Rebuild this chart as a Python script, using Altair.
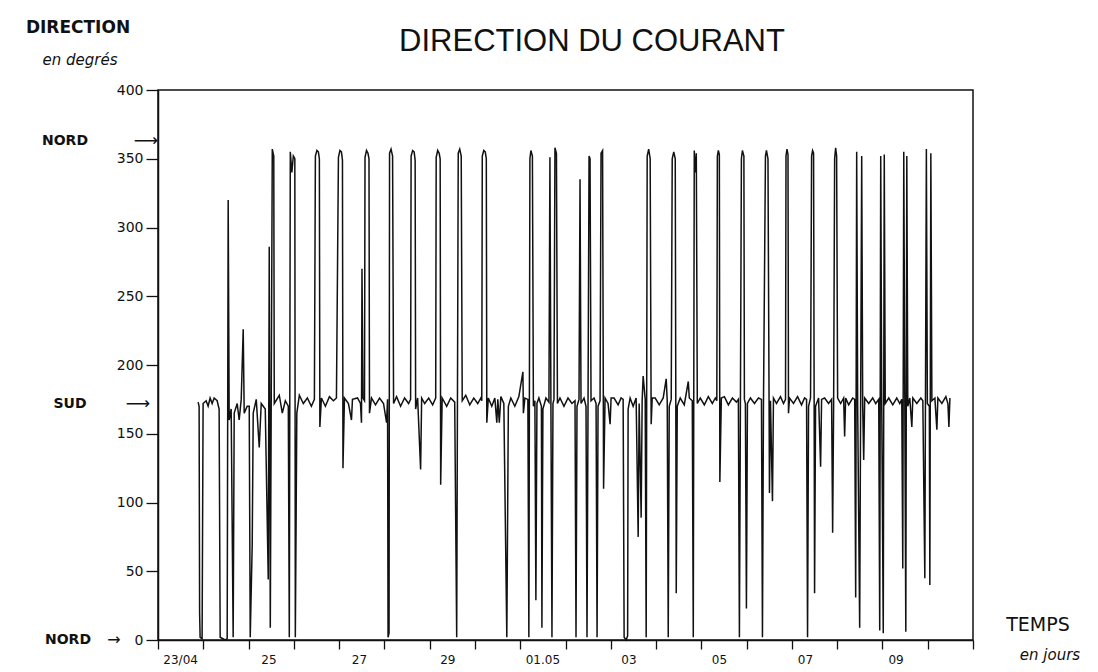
import altair as alt
import pandas as pd

# time in days since 23/04 00:00 and current direction in degrees
t = [0.886, 0.908, 0.919, 0.930, 0.974, 0.996, 1.063, 1.107, 1.151, 1.196,
     1.240, 1.306, 1.350, 1.373, 1.483, 1.528, 1.550, 1.572, 1.616, 1.660,
     1.683, 1.749, 1.793, 1.838, 1.882, 1.904, 1.970, 2.015, 2.037, 2.081,
     2.103, 2.170, 2.236, 2.280, 2.369, 2.435, 2.457, 2.480, 2.524, 2.557,
     2.568, 2.679, 2.745, 2.812, 2.878, 2.900, 2.922, 2.956, 2.989, 3.022,
     3.033, 3.066, 3.122, 3.210, 3.299, 3.387, 3.454, 3.476, 3.509, 3.542,
     3.564, 3.575, 3.609, 3.697, 3.786, 3.874, 3.941, 3.985, 4.018, 4.051,
     4.074, 4.085, 4.118, 4.206, 4.273, 4.295, 4.406, 4.472, 4.494, 4.505,
     4.527, 4.561, 4.572, 4.605, 4.638, 4.660, 4.671, 4.716, 4.804, 4.893,
     4.981, 5.048, 5.070, 5.081, 5.103, 5.114, 5.147, 5.181, 5.203, 5.269,
     5.358, 5.446, 5.535, 5.579, 5.590, 5.623, 5.657, 5.679, 5.690, 5.734,
     5.800, 5.823, 5.889, 5.978, 6.066, 6.133, 6.144, 6.177, 6.210, 6.232,
     6.243, 6.276, 6.376, 6.465, 6.553, 6.597, 6.631, 6.664, 6.697, 6.719,
     6.797, 6.885, 6.974, 7.062, 7.129, 7.151, 7.162, 7.195, 7.228, 7.251,
     7.262, 7.295, 7.372, 7.439, 7.483, 7.505, 7.538, 7.572, 7.638, 7.704,
     7.738, 7.793, 7.881, 7.970, 8.059, 8.070, 8.103, 8.169, 8.191, 8.214,
     8.236, 8.269, 8.291, 8.324, 8.346, 8.369, 8.413, 8.468, 8.479, 8.501,
     8.568, 8.634, 8.656, 8.678, 8.701, 8.723, 8.745, 8.767, 8.800, 8.822,
     8.878, 8.966, 9.055, 9.143, 9.210, 9.232, 9.254, 9.298, 9.321, 9.343,
     9.409, 9.453, 9.475, 9.498, 9.520, 9.542, 9.564, 9.630, 9.675, 9.697,
     9.719, 9.763, 9.785, 9.819, 9.841, 9.874, 9.940, 9.985, 10.007, 10.073,
     10.162, 10.228, 10.273, 10.295, 10.339, 10.372, 10.383, 10.427, 10.494, 10.560,
     10.605, 10.627, 10.671, 10.693, 10.715, 10.760, 10.782, 10.804, 10.837, 10.870,
     10.892, 10.915, 10.981, 11.070, 11.158, 11.224, 11.247, 11.269, 11.291, 11.335,
     11.357, 11.391, 11.424, 11.446, 11.468, 11.534, 11.623, 11.712, 11.734, 11.800,
     11.822, 11.844, 11.867, 11.889, 11.911, 11.977, 12.066, 12.154, 12.243, 12.309,
     12.342, 12.354, 12.376, 12.398, 12.409, 12.442, 12.509, 12.597, 12.686, 12.774,
     12.818, 12.841, 12.863, 12.885, 12.907, 12.940, 12.951, 12.973, 12.996, 13.018,
     13.084, 13.173, 13.261, 13.328, 13.350, 13.372, 13.416, 13.438, 13.472, 13.505,
     13.527, 13.571, 13.593, 13.660, 13.748, 13.815, 13.859, 13.870, 13.892, 13.914,
     13.925, 13.948, 14.036, 14.125, 14.213, 14.280, 14.324, 14.346, 14.368, 14.412,
     14.435, 14.457, 14.479, 14.501, 14.523, 14.590, 14.634, 14.656, 14.722, 14.811,
     14.877, 14.900, 14.922, 14.944, 14.966, 14.988, 15.010, 15.077, 15.143, 15.165,
     15.187, 15.254, 15.342, 15.387, 15.409, 15.431, 15.453, 15.497, 15.542, 15.564,
     15.586, 15.608, 15.697, 15.785, 15.852, 15.918, 15.940, 15.962, 15.984, 16.018,
     16.040, 16.062, 16.139, 16.228, 16.316, 16.383, 16.427, 16.449, 16.471, 16.494,
     16.516, 16.538, 16.560, 16.604, 16.649, 16.671, 16.759, 16.848, 16.892, 16.936,
     16.970, 16.992, 17.036, 17.047, 17.069, 17.092, 17.158, 17.202, 17.224, 17.313,
     17.401, 17.446, 17.468, 17.490]

direction = [173, 170, 20, 2, 1, 172, 174, 170, 176, 172,
             176, 174, 168, 2, 0, 1, 320, 160, 168, 2,
             165, 172, 160, 175, 226, 165, 170, 170, 2, 70,
             165, 175, 140, 172, 168, 44, 286, 9, 357, 352,
             172, 178, 165, 174, 170, 2, 355, 340, 352, 350,
             2, 165, 178, 172, 176, 170, 175, 352, 356, 355,
             350, 155, 176, 170, 177, 174, 176, 351, 356, 355,
             349, 125, 176, 172, 160, 175, 176, 172, 158, 270,
             176, 174, 351, 356, 354, 350, 165, 176, 171, 176,
             172, 158, 175, 2, 5, 354, 357, 352, 172, 177,
             170, 176, 172, 175, 352, 356, 355, 349, 168, 176,
             124, 176, 172, 176, 171, 176, 351, 356, 354, 350,
             113, 176, 170, 176, 173, 2, 354, 357, 352, 174,
             178, 171, 176, 172, 176, 174, 352, 356, 355, 350,
             158, 176, 170, 176, 158, 175, 158, 177, 172, 2,
             170, 176, 170, 177, 195, 165, 176, 175, 2, 350,
             356, 352, 170, 174, 29, 172, 176, 170, 9, 168,
             176, 173, 351, 170, 2, 172, 175, 358, 354, 172,
             176, 170, 176, 172, 174, 2, 170, 175, 335, 172,
             176, 170, 2, 174, 352, 350, 174, 176, 172, 2,
             170, 174, 354, 356, 110, 176, 172, 157, 176, 176,
             171, 176, 175, 2, 0, 3, 168, 176, 170, 176,
             75, 172, 89, 174, 192, 175, 2, 352, 357, 350,
             157, 176, 176, 171, 176, 190, 174, 2, 170, 175,
             350, 355, 350, 34, 170, 176, 171, 188, 176, 174,
             2, 356, 340, 354, 172, 176, 171, 177, 172, 176,
             174, 352, 356, 353, 115, 176, 177, 171, 176, 173,
             175, 2, 172, 350, 356, 352, 175, 172, 23, 172,
             176, 172, 176, 175, 2, 170, 352, 356, 350, 107,
             174, 101, 176, 172, 177, 172, 175, 352, 357, 353,
             165, 176, 172, 177, 171, 176, 175, 2, 170, 176,
             352, 356, 354, 34, 170, 176, 126, 175, 176, 172,
             175, 78, 172, 350, 358, 352, 176, 172, 176, 148,
             176, 171, 176, 175, 31, 355, 170, 9, 352, 170,
             131, 176, 172, 176, 172, 175, 7, 352, 174, 5,
             353, 172, 176, 171, 176, 172, 175, 52, 355, 174,
             6, 352, 170, 176, 155, 176, 172, 176, 174, 45,
             357, 172, 170, 40, 354, 174, 176, 153, 176, 172,
             177, 172, 155, 176]

day_ticks = list(range(19))
day_label_pos = [0.5, 2.45, 4.45, 6.4, 8.5, 10.4, 12.4, 14.3, 16.3]
day_labels = ["23/04", "25", "27", "29", "01.05", "03", "05", "07", "09"]
deg_ticks = [0, 50, 100, 150, 200, 250, 300, 350, 400]
nord_level = 363
sud_level = 172

n = min(len(t), len(direction))
df = pd.DataFrame({"t": t[:n], "dir": direction[:n], "i": list(range(n))})

W, H = 815, 550
xs = alt.Scale(domain=[0, 18], nice=False, zero=False)
ys = alt.Scale(domain=[0, 400], nice=False)

trace = alt.Chart(df).mark_line(color="#111", strokeWidth=1.5).encode(
    x=alt.X("t:Q", scale=xs,
            axis=alt.Axis(values=day_ticks, labels=False, tickSize=9, title=None,
                          grid=False, tickWidth=1.3, domainWidth=1.5)),
    y=alt.Y("dir:Q", scale=ys,
            axis=alt.Axis(values=deg_ticks, tickSize=12, labelFontSize=14,
                          labelFont="DejaVu Sans", labelPadding=3, title=None,
                          grid=False, tickWidth=1.3, domainWidth=1.5)),
    order="i:Q",
)

xlab = alt.Chart(pd.DataFrame({"p": day_label_pos, "lab": day_labels})).mark_text(
    font="DejaVu Sans", fontSize=12, color="#111", baseline="middle", align="center"
).encode(x=alt.X("p:Q", scale=xs), y=alt.value(H + 20), text="lab:N")


def txt(s, x, y, size, style="normal", weight="normal", align="center", font="DejaVu Sans"):
    return alt.Chart(pd.DataFrame({"s": [s]})).mark_text(
        font=font, fontSize=size, fontStyle=style, fontWeight=weight,
        color="#111", align=align, baseline="middle"
    ).encode(x=alt.value(x), y=alt.value(y), text="s:N")


def level_txt(s, x, level, size, weight="normal", align="center"):
    return alt.Chart(pd.DataFrame({"s": [s], "lv": [level]})).mark_text(
        font="DejaVu Sans", fontSize=size, fontWeight=weight, color="#111",
        align=align, baseline="middle"
    ).encode(x=alt.value(x), y=alt.Y("lv:Q", scale=ys), text="s:N")


layers = [
    trace,
    xlab,
    txt("DIRECTION DU COURANT", 434, -48, 31, font="Liberation Sans"),
    txt("DIRECTION", -80, -62, 17, weight="bold"),
    txt("en degrés", -78, -30, 15, style="italic"),
    txt("TEMPS", 880, 535, 19),
    txt("en jours", 892, 565, 15, style="italic"),
    level_txt("NORD", -93, nord_level, 14, weight="bold"),
    level_txt("⟶", -12, nord_level, 17),
    level_txt("SUD", -88, sud_level, 14, weight="bold"),
    level_txt("⟶", -20, sud_level, 17),
    level_txt("NORD", -90, 0, 14, weight="bold"),
    level_txt("→", -44, 0, 16),
]

chart = alt.layer(*layers).properties(
    width=W, height=H,
    autosize=alt.AutoSizeParams(type="none"),
    padding={"left": 158, "top": 90, "right": 125, "bottom": 32},
).configure_view(stroke="#111", strokeWidth=1.5).configure_axis(
    domainColor="#111", tickColor="#111", labelColor="#111"
)

chart.save("out.html", embed_options={"renderer": "svg", "actions": False})
